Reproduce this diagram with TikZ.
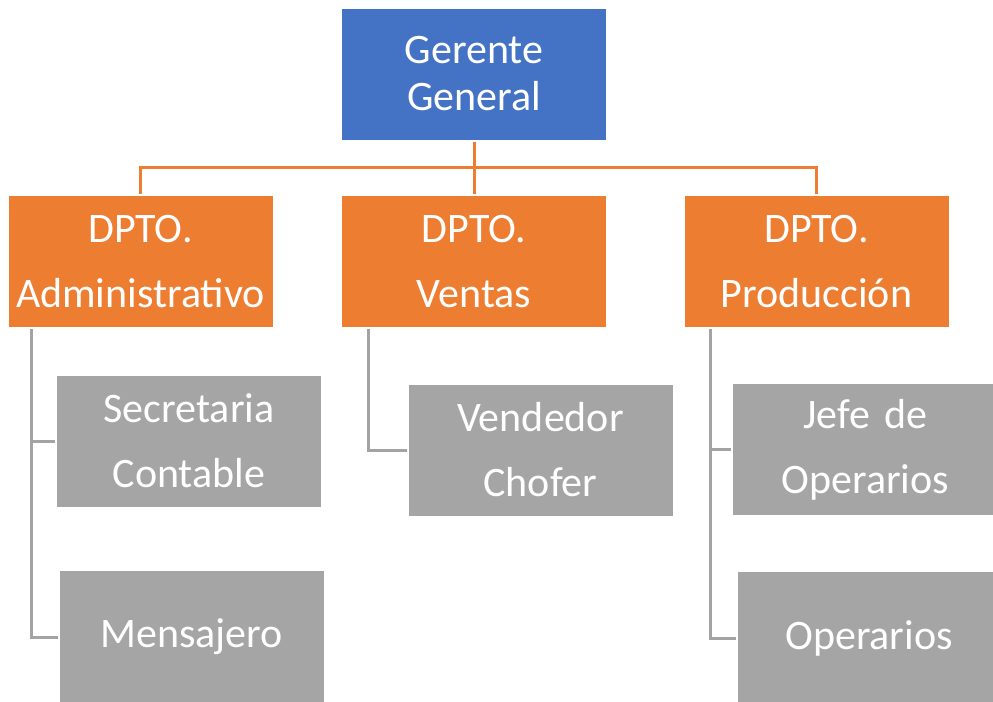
\documentclass[tikz,border=0pt]{standalone}
\usepackage{fontspec}
\setmainfont{Carlito}
\definecolor{gblue}{HTML}{4472C4}
\definecolor{gorange}{HTML}{ED7D31}
\definecolor{ggray}{HTML}{A5A5A5}
\definecolor{gline}{HTML}{A3A3A3}
\definecolor{gedge}{HTML}{CCCCCC}
\begin{document}
\begin{tikzpicture}[x=0.75pt,y=-0.75pt,
  orgbox/.style={rectangle, inner sep=0pt, minimum width=199.5pt, minimum height=99.75pt,
    text width=195pt, align=center, text=white, draw=white, line width=1.5pt,
    append after command={[draw=gedge, line width=0.6pt]
      ([shift={(-1.05pt,-1.05pt)}]\tikzlastnode.south west) rectangle
      ([shift={(1.05pt,1.05pt)}]\tikzlastnode.north east)}},
  topbox/.style={orgbox, fill=gblue, font=\fontsize{31.5}{35.25}\selectfont},
  deptbox/.style={orgbox, fill=gorange, font=\fontsize{31.5}{48.75}\selectfont},
  staffbox/.style={orgbox, fill=ggray, font=\fontsize{31.5}{48.75}\selectfont},
  tallbox/.style={staffbox, minimum height=110pt},
  widebox/.style={staffbox, minimum width=204pt},
  label/.style={inner sep=0pt, text=white, font=\fontsize{31.5}{48.75}\selectfont},
  oline/.style={draw=gorange, line width=2.25pt},
  gline/.style={draw=gline, line width=2.25pt}]
\useasboundingbox (0,0) rectangle (993,701);
\fill[white] (0,0) rectangle (993,701);

\coordinate (bus) at (474,167);

\node[topbox] (g) at (474,74) {Gerente\\General};
\node[deptbox] (adm) at (140.5,261.5) {DPTO.\\Administrativo};
\node[deptbox] (ven) at (474,261.5) {DPTO.\\Ventas};
\node[deptbox] (prod) at (816.5,261.5) {DPTO.\\Producción};

\node[staffbox] (sec) at (189,441) {Secretaria\\Contable};
\node[tallbox] (men) at (191.5,643.5) {};
\node[label] (mentext) at (191.5,637) {Mensajero};
\node[staffbox] (vend) at (540.5,450) {Vendedor\\Chofer};
\node[widebox] (jefe) at (868,449.5) {\hspace*{-4pt}Jefe de\\\hspace*{-4pt}Operarios};
\node[tallbox, minimum width=204pt] (oper) at (873,644.5) {};
\node[label] (opertext) at (869,638) {Operarios};

\draw[oline] (g.south) -- (bus);
\draw[oline] (adm.north) |- (bus) -| (prod.north);
\draw[oline] (ven.north) -- (bus);

\coordinate (admdown) at ([xshift=18.75pt]adm.south west);
\coordinate (vendown) at ([xshift=21pt]ven.south west);
\coordinate (proddown) at ([xshift=21pt]prod.south west);

\draw[gline] (admdown) |- (men.west |- mentext);
\draw[gline] (admdown) |- (sec.west);
\draw[gline] (vendown) |- (vend.west);
\draw[gline] (proddown) |- (oper.west |- opertext);
\draw[gline] (proddown) |- (jefe.west);
\end{tikzpicture}
\end{document}
